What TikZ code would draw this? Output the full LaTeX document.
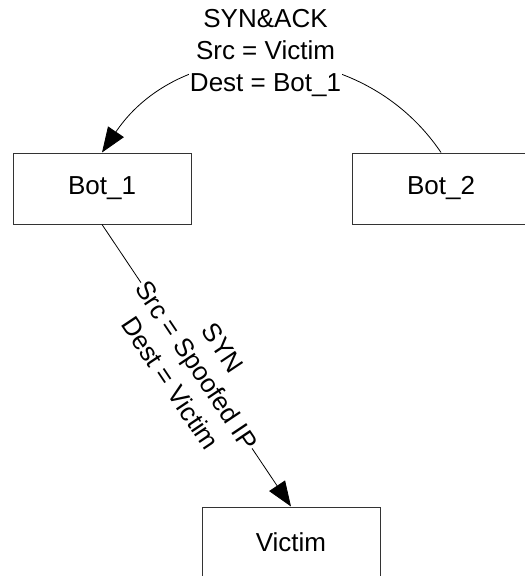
\documentclass[tikz,border=0pt]{standalone}
\usepackage{fontspec}
\setmainfont{Liberation Sans}
\usetikzlibrary{arrows.meta,positioning}

\begin{document}
\begin{tikzpicture}[
  x=1pt,y=1pt,
  box/.style={draw=black!80,line width=1pt,minimum width=178pt,minimum height=71pt,
    inner sep=0pt,font=\fontsize{26}{31.7}\selectfont},
  msg/.style={fill=white,align=center,inner sep=1pt,font=\fontsize{26}{31.7}\selectfont},
  arrow/.style={-{Triangle[length=25pt,width=19pt]},line width=0.8pt}
]
\useasboundingbox (0,0) rectangle (525,-576);
\node[box] (bot1) at (102,-188.5) {Bot\_1};
\node[box,right=160pt of bot1] (bot2) {Bot\_2};
\node[box,below right=282pt and 10pt of bot1] (victim) {Victim};
\draw[arrow] (bot2.north) to[bend right=56,looseness=1.09]
  node[msg,xshift=-6pt,yshift=10pt] {SYN\&ACK\\Src = Victim\\Dest = Bot\_1} (bot1.north);
\draw[arrow] (bot1.south) -- node[msg,sloped] {SYN\\Src = Spoofed IP\\Dest = Victim} (victim.north);
\end{tikzpicture}
\end{document}
